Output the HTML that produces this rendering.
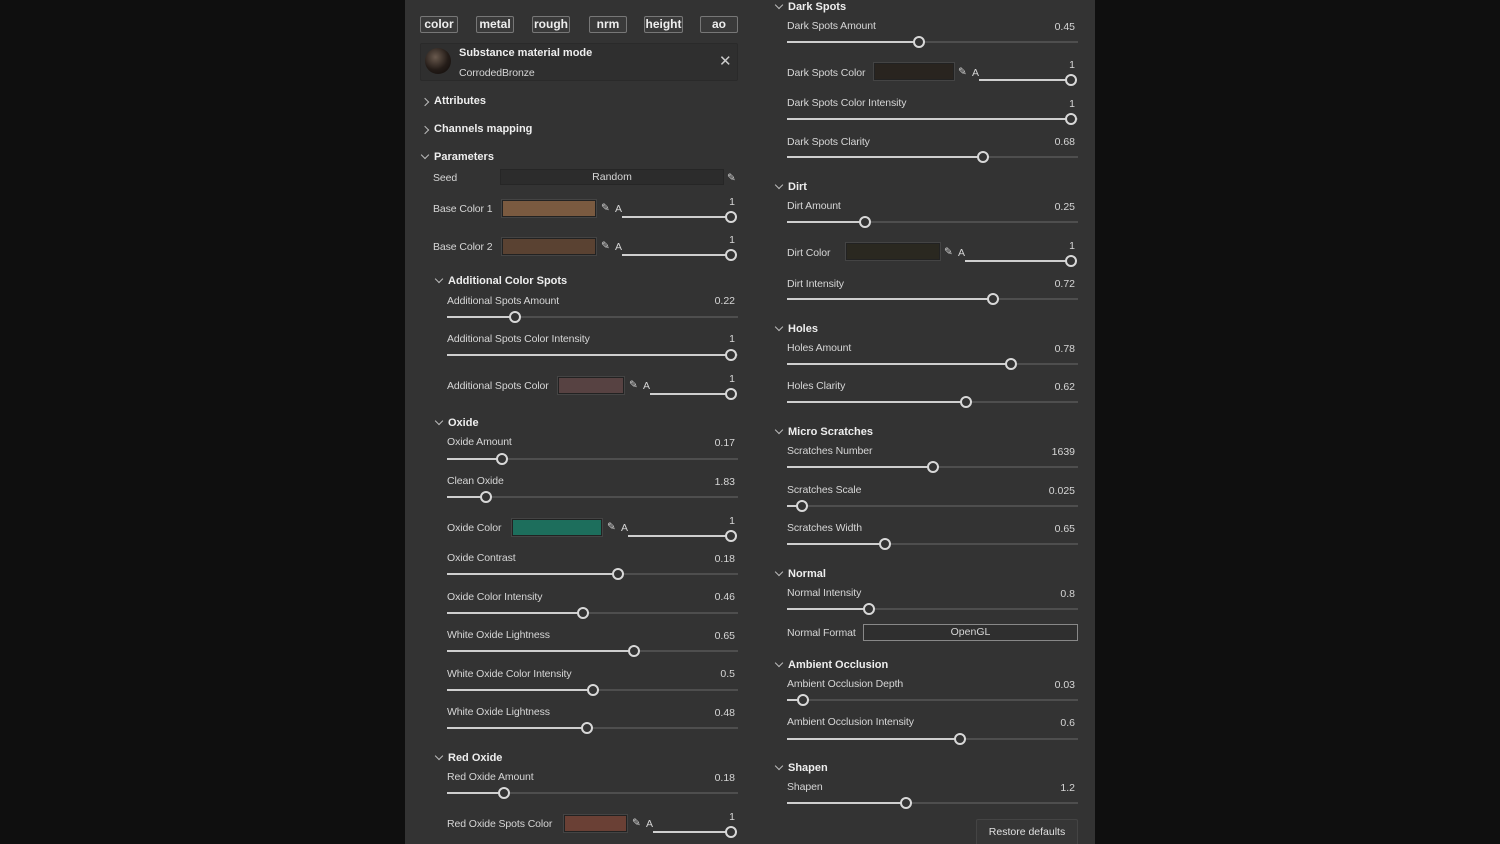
<!DOCTYPE html>
<html><head><meta charset="utf-8"><style>
html,body{margin:0;width:1500px;height:844px;overflow:hidden}
body{background:#0f0f0f;position:relative;font-family:"Liberation Sans",sans-serif;font-size:10.5px;color:#d6d6d6}
#p{position:absolute;left:405px;top:0;width:690px;height:844px;background:#333}
div{position:absolute}
.l,.h,.v{transform:translateY(1px)}
.l{line-height:14px;white-space:nowrap;letter-spacing:-0.1px}
.h{font-weight:bold;color:#eee;line-height:14px;white-space:nowrap;font-size:11px}
.v{line-height:14px;text-align:right;width:60px}
.tr{height:2px;background:#4e4e4e}
.fl{height:2px;background:#cfcfcf}
.k{width:8px;height:8px;border:2px solid #d8d8d8;border-radius:50%;background:#333}
.btn{height:15px;border:1px solid #777;border-radius:2px;background:#3a3a3a;font-weight:bold;color:#eee;text-align:center;line-height:15px;font-size:12px}
.sw{border:1px solid #222;box-shadow:0 0 0 1px #444}
.box{border:1px solid #262626;background:#2c2c2c;text-align:center;line-height:14px}
.ch{font-size:0;width:5px;height:5px;border-right:1px solid #bbb;border-bottom:1px solid #bbb;transform:translate(2px,4px) rotate(45deg)}
.ch.r{transform:translate(0px,6px) rotate(-45deg)}
</style></head><body>
<div id="p"></div>
<div class="btn" style="left:420px;top:16px;width:36px">color</div>
<div class="btn" style="left:476px;top:16px;width:36px">metal</div>
<div class="btn" style="left:532px;top:16px;width:36px">rough</div>
<div class="btn" style="left:589px;top:16px;width:36px">nrm</div>
<div class="btn" style="left:644px;top:16px;width:37px">height</div>
<div class="btn" style="left:700px;top:16px;width:36px">ao</div>
<div style="left:420px;top:43px;width:316px;height:36px;border:1px solid #2a2a2a;background:#2f2f2f;border-radius:2px"></div>
<div style="left:425px;top:48px;width:26px;height:26px;border-radius:50%;background:radial-gradient(circle at 40% 35%,#6a5a4e,#241c18 55%,#0e0a08)"></div>
<div class="h" style="left:459px;top:45px">Substance material mode</div>
<div class="l" style="left:459px;top:65px">CorrodedBronze</div>
<div class="l" style="left:719px;top:54px;font-size:15px;color:#ccc">✕</div>
<div class="ch r" style="left:422px;top:93px">&gt;</div><div class="h" style="left:434px;top:93px">Attributes</div>
<div class="ch r" style="left:422px;top:121px">&gt;</div><div class="h" style="left:434px;top:121px">Channels mapping</div>
<div class="ch" style="left:420px;top:148px">v</div><div class="h" style="left:434px;top:149px">Parameters</div>
<div class="l" style="left:433px;top:170px">Seed</div>
<div class="box" style="left:500px;top:169px;width:222px;height:14px">Random</div>
<div class="l" style="left:727px;top:170px">✎</div>
<div class="l" style="left:433px;top:201px">Base Color 1</div>
<div class="sw" style="left:502px;top:200px;width:92px;height:15px;background:#7a5a40"></div>
<div class="l" style="left:601px;top:200px">✎</div><div class="l" style="left:615px;top:201px">A</div>
<div class="v" style="left:675px;top:194px">1</div>
<div class="tr" style="left:622px;top:216px;width:109px;background:#cfcfcf"></div><div class="k" style="left:725px;top:211px"></div>
<div class="l" style="left:433px;top:239px">Base Color 2</div>
<div class="sw" style="left:502px;top:238px;width:92px;height:15px;background:#5a4232"></div>
<div class="l" style="left:601px;top:238px">✎</div><div class="l" style="left:615px;top:239px">A</div>
<div class="v" style="left:675px;top:232px">1</div>
<div class="tr" style="left:622px;top:254px;width:109px;background:#cfcfcf"></div><div class="k" style="left:725px;top:249px"></div>
<div class="ch" style="left:434px;top:272px">v</div><div class="h" style="left:448px;top:273px">Additional Color Spots</div>
<div class="l" style="left:447px;top:293px">Additional Spots Amount</div><div class="v" style="left:675px;top:293px">0.22</div>
<div class="tr" style="left:447px;top:316px;width:291px"></div><div class="fl" style="left:447px;top:316px;width:68px"></div><div class="k" style="left:509px;top:311px"></div>
<div class="l" style="left:447px;top:331px">Additional Spots Color Intensity</div><div class="v" style="left:675px;top:331px">1</div>
<div class="tr" style="left:447px;top:354px;width:291px"></div><div class="fl" style="left:447px;top:354px;width:284px"></div><div class="k" style="left:725px;top:349px"></div>
<div class="l" style="left:447px;top:378px">Additional Spots Color</div>
<div class="sw" style="left:558px;top:377px;width:64px;height:15px;background:#574242"></div>
<div class="l" style="left:629px;top:377px">✎</div><div class="l" style="left:643px;top:378px">A</div>
<div class="v" style="left:675px;top:371px">1</div>
<div class="tr" style="left:650px;top:393px;width:81px;background:#cfcfcf"></div><div class="k" style="left:725px;top:388px"></div>
<div class="ch" style="left:434px;top:414px">v</div><div class="h" style="left:448px;top:415px">Oxide</div>
<div class="l" style="left:447px;top:434px">Oxide Amount</div><div class="v" style="left:675px;top:435px">0.17</div>
<div class="tr" style="left:447px;top:458px;width:291px"></div><div class="fl" style="left:447px;top:458px;width:55px"></div><div class="k" style="left:496px;top:453px"></div>
<div class="l" style="left:447px;top:473px">Clean Oxide</div><div class="v" style="left:675px;top:474px">1.83</div>
<div class="tr" style="left:447px;top:496px;width:291px"></div><div class="fl" style="left:447px;top:496px;width:39px"></div><div class="k" style="left:480px;top:491px"></div>
<div class="l" style="left:447px;top:520px">Oxide Color</div>
<div class="sw" style="left:512px;top:519px;width:88px;height:15px;background:#1d6e5c"></div>
<div class="l" style="left:607px;top:519px">✎</div><div class="l" style="left:621px;top:520px">A</div>
<div class="v" style="left:675px;top:513px">1</div>
<div class="tr" style="left:628px;top:535px;width:103px;background:#cfcfcf"></div><div class="k" style="left:725px;top:530px"></div>
<div class="l" style="left:447px;top:550px">Oxide Contrast</div><div class="v" style="left:675px;top:551px">0.18</div>
<div class="tr" style="left:447px;top:573px;width:291px"></div><div class="fl" style="left:447px;top:573px;width:171px"></div><div class="k" style="left:612px;top:568px"></div>
<div class="l" style="left:447px;top:589px">Oxide Color Intensity</div><div class="v" style="left:675px;top:589px">0.46</div>
<div class="tr" style="left:447px;top:612px;width:291px"></div><div class="fl" style="left:447px;top:612px;width:136px"></div><div class="k" style="left:577px;top:607px"></div>
<div class="l" style="left:447px;top:627px">White Oxide Lightness</div><div class="v" style="left:675px;top:628px">0.65</div>
<div class="tr" style="left:447px;top:650px;width:291px"></div><div class="fl" style="left:447px;top:650px;width:187px"></div><div class="k" style="left:628px;top:645px"></div>
<div class="l" style="left:447px;top:666px">White Oxide Color Intensity</div><div class="v" style="left:675px;top:666px">0.5</div>
<div class="tr" style="left:447px;top:689px;width:291px"></div><div class="fl" style="left:447px;top:689px;width:146px"></div><div class="k" style="left:587px;top:684px"></div>
<div class="l" style="left:447px;top:704px">White Oxide Lightness</div><div class="v" style="left:675px;top:705px">0.48</div>
<div class="tr" style="left:447px;top:727px;width:291px"></div><div class="fl" style="left:447px;top:727px;width:140px"></div><div class="k" style="left:581px;top:722px"></div>
<div class="ch" style="left:434px;top:749px">v</div><div class="h" style="left:448px;top:750px">Red Oxide</div>
<div class="l" style="left:447px;top:769px">Red Oxide Amount</div><div class="v" style="left:675px;top:770px">0.18</div>
<div class="tr" style="left:447px;top:792px;width:291px"></div><div class="fl" style="left:447px;top:792px;width:57px"></div><div class="k" style="left:498px;top:787px"></div>
<div class="l" style="left:447px;top:816px">Red Oxide Spots Color</div>
<div class="sw" style="left:564px;top:815px;width:61px;height:15px;background:#6a4035"></div>
<div class="l" style="left:632px;top:815px">✎</div><div class="l" style="left:646px;top:816px">A</div>
<div class="v" style="left:675px;top:809px">1</div>
<div class="tr" style="left:653px;top:831px;width:78px;background:#cfcfcf"></div><div class="k" style="left:725px;top:826px"></div>

<div class="ch" style="left:774px;top:-2px">v</div><div class="h" style="left:788px;top:-1px">Dark Spots</div>
<div class="l" style="left:787px;top:18px">Dark Spots Amount</div><div class="v" style="left:1015px;top:19px">0.45</div>
<div class="tr" style="left:787px;top:41px;width:291px"></div><div class="fl" style="left:787px;top:41px;width:132px"></div><div class="k" style="left:913px;top:36px"></div>
<div class="l" style="left:787px;top:65px">Dark Spots Color</div>
<div class="sw" style="left:874px;top:63px;width:78px;height:15px;background:#29241f"></div>
<div class="l" style="left:958px;top:64px">✎</div><div class="l" style="left:972px;top:65px">A</div>
<div class="v" style="left:1015px;top:57px">1</div>
<div class="tr" style="left:979px;top:79px;width:92px;background:#cfcfcf"></div><div class="k" style="left:1065px;top:74px"></div>
<div class="l" style="left:787px;top:95px">Dark Spots Color Intensity</div><div class="v" style="left:1015px;top:96px">1</div>
<div class="tr" style="left:787px;top:118px;width:291px"></div><div class="fl" style="left:787px;top:118px;width:284px"></div><div class="k" style="left:1065px;top:113px"></div>
<div class="l" style="left:787px;top:134px">Dark Spots Clarity</div><div class="v" style="left:1015px;top:134px">0.68</div>
<div class="tr" style="left:787px;top:156px;width:291px"></div><div class="fl" style="left:787px;top:156px;width:196px"></div><div class="k" style="left:977px;top:151px"></div>
<div class="ch" style="left:774px;top:178px">v</div><div class="h" style="left:788px;top:179px">Dirt</div>
<div class="l" style="left:787px;top:198px">Dirt Amount</div><div class="v" style="left:1015px;top:199px">0.25</div>
<div class="tr" style="left:787px;top:221px;width:291px"></div><div class="fl" style="left:787px;top:221px;width:78px"></div><div class="k" style="left:859px;top:216px"></div>
<div class="l" style="left:787px;top:245px">Dirt Color</div>
<div class="sw" style="left:846px;top:243px;width:92px;height:15px;background:#2a2820"></div>
<div class="l" style="left:944px;top:244px">✎</div><div class="l" style="left:958px;top:245px">A</div>
<div class="v" style="left:1015px;top:238px">1</div>
<div class="tr" style="left:965px;top:260px;width:106px;background:#cfcfcf"></div><div class="k" style="left:1065px;top:255px"></div>
<div class="l" style="left:787px;top:276px">Dirt Intensity</div><div class="v" style="left:1015px;top:276px">0.72</div>
<div class="tr" style="left:787px;top:298px;width:291px"></div><div class="fl" style="left:787px;top:298px;width:206px"></div><div class="k" style="left:987px;top:293px"></div>
<div class="ch" style="left:774px;top:320px">v</div><div class="h" style="left:788px;top:321px">Holes</div>
<div class="l" style="left:787px;top:340px">Holes Amount</div><div class="v" style="left:1015px;top:341px">0.78</div>
<div class="tr" style="left:787px;top:363px;width:291px"></div><div class="fl" style="left:787px;top:363px;width:224px"></div><div class="k" style="left:1005px;top:358px"></div>
<div class="l" style="left:787px;top:378px">Holes Clarity</div><div class="v" style="left:1015px;top:379px">0.62</div>
<div class="tr" style="left:787px;top:401px;width:291px"></div><div class="fl" style="left:787px;top:401px;width:179px"></div><div class="k" style="left:960px;top:396px"></div>
<div class="ch" style="left:774px;top:423px">v</div><div class="h" style="left:788px;top:424px">Micro Scratches</div>
<div class="l" style="left:787px;top:443px">Scratches Number</div><div class="v" style="left:1015px;top:444px">1639</div>
<div class="tr" style="left:787px;top:466px;width:291px"></div><div class="fl" style="left:787px;top:466px;width:146px"></div><div class="k" style="left:927px;top:461px"></div>
<div class="l" style="left:787px;top:482px">Scratches Scale</div><div class="v" style="left:1015px;top:483px">0.025</div>
<div class="tr" style="left:787px;top:505px;width:291px"></div><div class="fl" style="left:787px;top:505px;width:15px"></div><div class="k" style="left:796px;top:500px"></div>
<div class="l" style="left:787px;top:520px">Scratches Width</div><div class="v" style="left:1015px;top:521px">0.65</div>
<div class="tr" style="left:787px;top:543px;width:291px"></div><div class="fl" style="left:787px;top:543px;width:98px"></div><div class="k" style="left:879px;top:538px"></div>
<div class="ch" style="left:774px;top:565px">v</div><div class="h" style="left:788px;top:566px">Normal</div>
<div class="l" style="left:787px;top:585px">Normal Intensity</div><div class="v" style="left:1015px;top:586px">0.8</div>
<div class="tr" style="left:787px;top:608px;width:291px"></div><div class="fl" style="left:787px;top:608px;width:82px"></div><div class="k" style="left:863px;top:603px"></div>
<div class="l" style="left:787px;top:625px">Normal Format</div>
<div class="box" style="left:863px;top:624px;width:213px;height:15px;border-color:#888;background:#2f2f2f">OpenGL</div>
<div class="ch" style="left:774px;top:656px">v</div><div class="h" style="left:788px;top:657px">Ambient Occlusion</div>
<div class="l" style="left:787px;top:676px">Ambient Occlusion Depth</div><div class="v" style="left:1015px;top:677px">0.03</div>
<div class="tr" style="left:787px;top:699px;width:291px"></div><div class="fl" style="left:787px;top:699px;width:16px"></div><div class="k" style="left:797px;top:694px"></div>
<div class="l" style="left:787px;top:714px">Ambient Occlusion Intensity</div><div class="v" style="left:1015px;top:715px">0.6</div>
<div class="tr" style="left:787px;top:738px;width:291px"></div><div class="fl" style="left:787px;top:738px;width:173px"></div><div class="k" style="left:954px;top:733px"></div>
<div class="ch" style="left:774px;top:759px">v</div><div class="h" style="left:788px;top:760px">Shapen</div>
<div class="l" style="left:787px;top:779px">Shapen</div><div class="v" style="left:1015px;top:780px">1.2</div>
<div class="tr" style="left:787px;top:802px;width:291px"></div><div class="fl" style="left:787px;top:802px;width:119px"></div><div class="k" style="left:900px;top:797px"></div>
<div style="left:976px;top:819px;width:100px;height:25px;border:1px solid #444;border-bottom:0;background:#363636;border-radius:2px 2px 0 0;line-height:24px;text-align:center;color:#e0e0e0">Restore defaults</div>
</body></html>
